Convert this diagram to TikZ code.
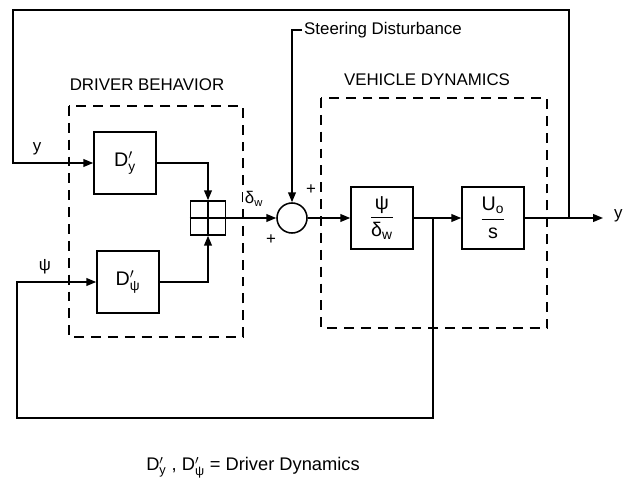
\documentclass[tikz,border=0pt]{standalone}
\usepackage{amsmath}
\usepackage{fontspec}
\setmainfont{Liberation Sans}
\usetikzlibrary{arrows.meta}
\usetikzlibrary{positioning}
\usetikzlibrary{calc}

\begin{document}
\begin{tikzpicture}[x=0.025cm, y=-0.025cm, line width=1.1pt, >={Triangle[length=7pt, width=5.5pt]},
    block/.style={draw, rectangle, minimum width=1.55cm, minimum height=1.55cm, font=\fontsize{14}{16}\selectfont},
    summer/.style={draw, circle, minimum size=0.75cm, inner sep=0pt},
    frame/.style={draw, dash pattern=on 7pt off 5pt, line width=1pt},
    lbl/.style={font=\fontsize{12}{14}\selectfont, inner sep=1pt}]
        % Fix the page to the size of the reference
        \useasboundingbox (0,0) rectangle (623,492);

        % Dashed frames round the two subsystems
        \draw[frame] (69,106) rectangle (243,337);
        \draw[frame] (321,98) rectangle (547,328);
        \node[lbl] (drvlbl) at (147,85) {DRIVER BEHAVIOR};
        \node[lbl] (vehlbl) at (427,80) {VEHICLE DYNAMICS};

        % Blocks
        \node[block] (dy) at (125,163) {D$'_{\text{y}}$};
        \node[block] (dpsi) at (128,282) {D$'_{\text{ψ}}$};
        \node[draw, rectangle, minimum width=0.875cm, minimum height=0.85cm] (mix) at (208,218) {};
        \draw (mix.north) -- (mix.south);
        \draw (mix.west) -- (mix.east);
        \node[summer] (sum) at (292,218) {};
        \node[block] (yaw) at (382,218) {$\dfrac{\text{ψ}}{\text{δ}_{\text{w}}}$};
        \node[block] (pos) at (493,218) {$\dfrac{\text{U}_{\text{o}}}{\text{s}}$};

        % Helper points of the loops
        \coordinate (fork) at (433,218);
        \coordinate (tap) at (569,218);
        \coordinate (out) at (603,218);
        \coordinate (tl) at (13,10);
        \coordinate (bl) at (17,418);

        % Forward path
        \draw[->] (dy.east) -| (mix.north);
        \draw[->] (dpsi.east) -| (mix.south);
        \draw[->] (mix.east) -- (sum.west);
        \draw[->] (sum.east) -- (yaw.west);
        \draw[->] (yaw.east) -- (pos.west);
        \draw[->] (pos.east) -- (out);

        % Feedback of lateral position and heading
        \draw[->] (tap) |- (tl) |- (dy.west);
        \draw[->] (fork) |- (bl) |- (dpsi.west);

        % Disturbance input
        \node[lbl, anchor=west] (dist) at (302,30) {Steering Disturbance};
        \draw[->] (dist.west) -| (sum.north);

        % Signal labels
        \node[lbl] (ylbl) at (37,149) {y};
        \node[lbl] (psilbl) at (45,267) {ψ};
        \node[lbl, fill=white] (dwlbl) at (254,199) {δ$_{\text{w}}$};
        \node[lbl] (plusa) at (311,190) {+};
        \node[lbl] (plusb) at (271,240) {+};
        \node[lbl, anchor=west] (outlbl) at (612,216) {y};

        % Legend
        \node[font=\fontsize{13}{15}\selectfont] (legend) at (253,468) {D$'_{\text{y}}$ , D$'_{\text{ψ}}$ = Driver Dynamics};
      \end{tikzpicture}
\end{document}
